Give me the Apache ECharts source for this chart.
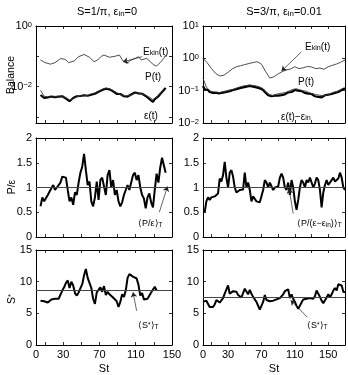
<!DOCTYPE html>
<html>
<head>
<meta charset="utf-8">
<script src="https://cdn.jsdelivr.net/npm/echarts@6/dist/echarts.min.js"></script>
<style>
  html, body { margin: 0; padding: 0; background: #fff; }
  #chart { width: 348px; height: 375px; }
</style>
</head>
<body>
<div id="chart"></div>
<script>
const FONT = '"Liberation Sans", Arial, Helvetica, sans-serif'

// ---- St (time) positions ----
const stLeft = [5,7,9,11,13,15,17,19,21,23,25,27,29,31,33,35,37,39,41,43,45,47,49,51,53,55,57,59,61,63,65,67,69,71,73,75,77,79,81,83,85,87,89,91,93,95,97,99,101,103,105,107,109,111,113,115,117,119,121,123,125,127,129,131,133,135,137,139,141,143]
const stLeftCoarse = [5,9,13,17,21,25,29,33,37,41,45,49,53,57,61,65,69,73,77,81,85,89,93,97,101,105,109,113,117,121,125,129,133,137,141]
const stEkinLeft = [5,10,16,21,27,32,36,42,47,53,59,64,68,72,75,81,87,92,96,100,105,109,113,116,122,126,130,133,137,141,143]
const stRight = [0,2,4,6,8,10,12,14,16,18,20,22,24,26,28,30,32,34,36,38,40,42,44,46,48,50,52,54,56,58,60,62,64,66,68,70,72,74,76,78,80,82,84,86,88,90,92,94,96,98,100,102,104,106,108,110,112,114,116,118,120,122,124,126,128,130,132,134,136,138,140,142,144,146,148,150,152,154,156,158,160,162,164,166,168,170]
const stRightCoarse = [0,4,8,12,16,20,24,28,32,36,40,44,48,52,56,60,64,68,72,76,80,84,88,92,96,100,104,108,112,116,120,124,128,132,136,140,144,148,152,156,160,164,168]
const stEkinRight = [0,5,10,15,20,25,30,35,40,45,50,55,60,65,70,75,80,85,90,95,100,105,110,115,120,125,130,135,140,145,150,155,160,165,170]

// ---- top row: balance (log scale) ----
const ekinLeft = [.0755,.062,.055,.062,.084,.080,.062,.070,.097,.115,.093,.0665,.0755,.10,.11,.093,.10,.11,.07,.0586,.0755,.084,.097,.0755,.086,.0665,.0516,.048,.062,.086,.11]
const powerLeft = [.0075,.0048,.0046,.0044,.0047,.0045,.0046,.0044,.0036,.0040,.0046,.0050,.0049,.0052,.0058,.0062,.0070,.0082,.0090,.0086,.0074,.0063,.0055,.0050,.0049,.0053,.0060,.0062,.0057,.0052,.0045,.0037,.0046,.0058,.0085]
const epsLeft = [
  .0053,.0047,.0042,.0048,.0044,.0041,.0047,.0043,.0045,.0042,
  .0047,.0044,.0048,.0043,.0040,.0036,.0033,.0038,.0042,.0045,
  .0048,.0044,.0049,.0047,.0052,.0054,.0050,.0055,.0054,.0060,
  .0058,.0064,.0068,.0073,.0077,.0081,.0085,.0088,.0081,.0075,
  .0070,.0064,.0058,.0054,.0057,.0052,.0048,.0050,.0047,.0052,
  .0055,.0060,.0064,.0070,.0060,.0053,.0058,.0055,.0049,.0044,
  .0039,.0036,.0031,.0039,.0044,.0048,.0057,.0066,.0077,.0091]
const ekinRight = [1.0,.73,.49,.344,.285,.30,.37,.47,.55,.59,.64,.69,.74,.79,.66,.39,.245,.27,.33,.39,.44,.47,.55,.48,.51,.56,.54,.48,.50,.46,.55,.61,.67,.76,.89]
const powerRight = [.24,.13,.10,.092,.09,.088,.093,.10,.105,.11,.12,.13,.14,.145,.15,.145,.14,.13,.115,.09,.075,.07,.078,.082,.085,.09,.10,.11,.115,.105,.10,.095,.085,.08,.075,.072,.07,.074,.08,.09,.095,.105,.12]
const epsRight = [
  .14,.11,.10,.105,.091,.095,.085,.081,.085,.077,
  .083,.079,.087,.083,.091,.087,.097,.093,.105,.10,
  .112,.108,.12,.115,.126,.118,.133,.124,.14,.15,
  .133,.142,.126,.133,.118,.124,.105,.091,.079,.072,
  .065,.068,.064,.070,.073,.070,.077,.073,.081,.077,
  .085,.089,.093,.091,.10,.105,.097,.10,.093,.097,
  .091,.085,.089,.081,.075,.079,.072,.067,.07,.064,
  .068,.062,.067,.072,.067,.075,.07,.079,.075,.085,
  .081,.091,.097,.105,.112,.118]

// ---- middle row: P / eps ----
const peLeft = [
  0.62,0.80,0.72,0.76,0.85,0.92,0.88,1.05,0.95,1.0,
  0.97,1.1,1.22,1.25,1.2,0.95,0.72,0.8,0.65,0.9,
  0.85,1.1,1.3,1.42,1.68,1.35,1.05,1.12,0.72,0.62,
  0.8,1.12,0.75,1.15,1.2,1.18,0.85,1.25,1.35,1.0,
  1.15,0.85,0.95,0.72,0.62,0.7,0.85,0.95,1.05,0.95,
  1.1,1.25,1.3,1.15,1.25,1.0,0.85,0.78,0.58,0.8,
  0.88,0.7,0.6,0.95,1.28,1.1,1.4,1.6,1.45,1.3]
const peRight = [
  null,0.5,0.72,0.8,0.75,0.8,0.78,0.82,0.85,0.88,
  1.18,1.12,1.25,1.52,1.2,1.0,1.3,1.35,1.22,1.0,
  0.9,0.92,0.95,0.93,0.96,1.3,1.0,1.1,0.95,0.72,
  0.82,0.78,0.72,0.7,0.7,0.72,0.95,1.15,1.1,1.0,
  1.1,1.12,0.95,1.0,0.98,1.02,1.2,1.28,1.2,1.0,
  0.95,1.1,0.85,1.15,1.0,0.72,0.55,0.75,1.0,1.15,
  1.1,1.0,1.15,1.1,1.2,1.1,1.0,1.08,1.2,1.15,
  0.95,0.6,0.9,1.05,1.15,1.05,1.1,1.15,1.2,1.12,
  1.15,1.18,1.3,1.2,1.0,0.95]
const peMeanLeft = 1
const peMeanRight = 1

// ---- bottom row: S* ----
const sLeft = [
  7.0,7.2,6.9,7.0,6.7,6.9,7.2,7.0,7.3,7.2,
  7.3,7.6,8.6,9.1,9.8,10.2,9.0,10.0,9.4,8.2,
  7.8,8.3,8.3,9.6,11.0,12.0,10.6,10.5,9.0,7.3,
  6.5,8.3,8.7,9.1,8.4,9.3,7.9,8.4,8.0,8.3,
  7.5,7.8,6.9,6.0,6.8,8.0,7.6,8.6,10.6,11.2,
  11.0,10.8,11.0,10.5,9.5,7.8,8.2,7.2,7.5,7.3,
  7.1,8.3,8.4,9.2,8.6,null,null,null,null,null]
const sRight = [
  6.8,6.9,7.0,7.1,6.0,6.1,6.0,6.4,7.1,6.9,
  6.7,6.8,7.4,8.1,8.4,9.4,8.1,8.1,8.5,8.8,
  8.4,7.9,7.7,7.5,7.7,8.9,8.8,8.0,8.7,8.1,
  7.6,7.2,6.8,6.2,5.6,5.9,6.8,7.9,7.1,7.4,
  6.9,7.2,7.0,7.1,7.2,7.2,7.4,7.7,8.0,8.5,
  8.7,8.8,7.4,8.0,7.3,6.8,6.2,5.7,6.0,6.7,
  7.2,7.3,7.3,7.2,7.4,7.5,7.3,7.7,8.6,8.4,
  7.6,7.0,6.6,6.7,7.5,8.0,7.5,8.0,8.6,9.0,
  8.6,9.6,9.9,9.4,8.4,8.3]
const sMeanLeft = 8.6
const sMeanRight = 7.6

// ---- ticks ----
const stTickLabels = [0, 30, 70, 110, 150]
const stTicksLeft = [10, 30, 50, 70, 90, 110, 130, 150]
const stTicksRight = [10, 30, 50, 70, 90, 110, 130, 150, 170]
const peTicks = [0, 0.5, 1, 1.5, 2]
const sTicks = [0, 5, 10, 15]

// annotation arrows (tail -> head), data coords
const arrows = [
  [[117, 0.097], [96, 0.066]],
  [[118, 1.6], [94, 0.405]],
  [[136, 0.5], [145, 1.02]],
  [[108, 0.475], [103, 0.98]],
  [[111, 5.4], [107, 8.33]],
  [[124.8, 4.4], [105, 7.06]]
]

const panels = [
  { grid: { left: 36, top: 26, width: 136, height: 97 }, xMax: 150, xTicks: stTicksLeft,
    yType: 'log', yMin: 0.00063, yMax: 1, yLabels: [0.01, 1], yTicks: [0.001, 0.01, 0.1, 1] },
  { grid: { left: 203, top: 26, width: 142, height: 97 }, xMax: 170, xTicks: stTicksRight,
    yType: 'log', yMin: 0.01, yMax: 10, yLabels: [0.01, 0.1, 1, 10], yTicks: [0.01, 0.1, 1, 10] },
  { grid: { left: 36, top: 138, width: 136, height: 99 }, xMax: 150, xTicks: stTicksLeft,
    yType: 'value', yMin: 0, yMax: 2, yLabels: peTicks, yTicks: peTicks },
  { grid: { left: 203, top: 138, width: 142, height: 99 }, xMax: 170, xTicks: stTicksRight,
    yType: 'value', yMin: 0, yMax: 2, yLabels: peTicks, yTicks: peTicks },
  { grid: { left: 36, top: 250, width: 136, height: 99 }, xMax: 150, xTicks: stTicksLeft,
    yType: 'value', yMin: 0, yMax: 15, yLabels: sTicks, yTicks: sTicks, bottom: true },
  { grid: { left: 203, top: 250, width: 142, height: 99 }, xMax: 170, xTicks: stTicksRight,
    yType: 'value', yMin: 0, yMax: 15, yLabels: sTicks, yTicks: sTicks, bottom: true }
]

const tickStyle = { show: true, inside: true, length: 3, lineStyle: { color: '#000', width: 0.8 } }
const lineFrame = { show: true, onZero: false, lineStyle: { color: '#000', width: 1 } }
const labelBase = { color: '#000', fontFamily: FONT, fontSize: 11 }

function logLabel(v) {
  const e = Math.round(Math.log10(v))
  return '{b|10}{s|' + (e < 0 ? '\u2212' + (-e) : e) + '}'
}

const xAxis = []
const yAxis = []
panels.forEach((p, i) => {
  xAxis.push({
    gridIndex: i, type: 'value', min: 0, max: p.xMax, position: 'bottom',
    axisLine: lineFrame, axisTick: { ...tickStyle, customValues: p.xTicks },
    axisLabel: { show: !!p.bottom, customValues: stTickLabels, margin: 4, ...labelBase },
    splitLine: { show: false },
    name: p.bottom ? 'St' : '', nameLocation: 'middle', nameGap: 18,
    nameTextStyle: { ...labelBase }
  })
  xAxis.push({
    gridIndex: i, type: 'value', min: 0, max: p.xMax, position: 'top',
    axisLine: lineFrame, axisTick: { ...tickStyle, customValues: p.xTicks },
    axisLabel: { show: false }, splitLine: { show: false }
  })
  const yBase = { gridIndex: i, type: p.yType, min: p.yMin, max: p.yMax, splitLine: { show: false }, axisLine: lineFrame }
  if (p.yType === 'log') yBase.logBase = 10
  yAxis.push({
    ...yBase, position: 'left',
    axisTick: { ...tickStyle, customValues: p.yTicks },
    axisLabel: p.yType === 'log'
      ? { customValues: p.yLabels, margin: 4, formatter: logLabel,
          rich: { b: { ...labelBase, verticalAlign: 'middle' },
                  s: { color: '#000', fontFamily: FONT, fontSize: 7.5, verticalAlign: 'top', lineHeight: 7 } } }
      : { customValues: p.yLabels, margin: 4, ...labelBase }
  })
  yAxis.push({
    ...yBase, position: 'right',
    axisTick: { ...tickStyle, customValues: p.yTicks },
    axisLabel: { show: false }
  })
})

const zip = (xs, ys) => xs.map((x, i) => [x, ys[i]])

function line(i, xs, ys, color, width, extra) {
  return Object.assign({
    type: 'line', xAxisIndex: 2 * i, yAxisIndex: 2 * i, data: zip(xs, ys),
    showSymbol: false, symbol: 'none', silent: true,
    lineStyle: { color: color, width: width }, z: 3
  }, extra || {})
}

// mean value as a horizontal reference line
function meanLine(mean) {
  return {
    markLine: {
      silent: true, animation: false, symbol: 'none',
      label: { show: false }, emphasis: { disabled: true },
      lineStyle: { color: '#444', width: 1, type: 'solid' },
      data: [{ yAxis: mean }]
    }
  }
}

// invisible carrier series whose markLine draws the annotation arrow
function arrowSeries(i) {
  const a = arrows[i]
  return {
    type: 'line', xAxisIndex: 2 * i, yAxisIndex: 2 * i, data: [a[0], a[1]],
    showSymbol: false, symbol: 'none', silent: true,
    lineStyle: { opacity: 0, width: 0 }, z: 4,
    markLine: {
      silent: true, animation: false, symbol: ['none', 'arrow'], symbolSize: 5,
      label: { show: false }, emphasis: { disabled: true },
      lineStyle: { color: '#222', width: 0.7, type: 'solid' },
      data: [[{ coord: a[0] }, { coord: a[1] }]]
    }
  }
}

const thin = '#3a3a3a'
const series = [
  line(0, stLeft, epsLeft, '#000', 2.2),
  line(0, stLeftCoarse, powerLeft, thin, 0.9),
  line(0, stEkinLeft, ekinLeft, thin, 0.9),
  line(1, stRight, epsRight, '#000', 2.2),
  line(1, stRightCoarse, powerRight, thin, 0.9),
  line(1, stEkinRight, ekinRight, thin, 0.9),
  line(2, stLeft, peLeft, '#000', 2, meanLine(peMeanLeft)),
  line(3, stRight, peRight, '#000', 2, meanLine(peMeanRight)),
  line(4, stLeft, sLeft, '#000', 2, meanLine(sMeanLeft)),
  line(5, stRight, sRight, '#000', 2, meanLine(sMeanRight))
]
for (let i = 0; i < 6; i++) series.push(arrowSeries(i))

function richFor(size) {
  const small = Math.round(size * 0.72 * 10) / 10
  return {
    sub: { fontSize: small, fontFamily: FONT, fill: '#000', verticalAlign: 'bottom', lineHeight: size * 0.6 },
    sup: { fontSize: small, fontFamily: FONT, fill: '#000', verticalAlign: 'top', lineHeight: size * 0.6 }
  }
}

function txt(x, y, text, opt) {
  opt = opt || {}
  const size = opt.size || 10
  return {
    type: 'text', x: x, y: y, rotation: opt.rot || 0, silent: true, z: 10,
    style: {
      text: text, fill: '#000', fontSize: size, fontFamily: FONT,
      align: opt.align || 'left', verticalAlign: 'middle', rich: richFor(size)
    }
  }
}

const graphic = [
  txt(107, 12, 'S=1/\u03c0, \u03b5{sub|in}=0', { size: 11, align: 'center' }),
  txt(284, 12, 'S=3/\u03c0, \u03b5{sub|in}=0.01', { size: 11, align: 'center' }),
  txt(11, 75, 'Balance', { size: 10.5, align: 'center', rot: Math.PI / 2 }),
  txt(12, 187, 'P/\u03b5', { size: 10.5, align: 'center', rot: Math.PI / 2 }),
  txt(12, 299, 'S{sup|*}', { size: 10.5, align: 'center', rot: Math.PI / 2 }),
  txt(143, 52, 'E{sub|kin}(t)', { size: 10 }),
  txt(145, 77, 'P(t)', { size: 10 }),
  txt(144, 116, '\u03b5(t)', { size: 10 }),
  txt(305, 47, 'E{sub|kin}(t)', { size: 10 }),
  txt(298, 82, 'P(t)', { size: 10 }),
  txt(281, 117, '\u03b5(t)\u2212\u03b5{sub|in}', { size: 10 }),
  txt(138, 224, '\u27e8P/\u03b5\u27e9{sub|T}', { size: 9 }),
  txt(297, 224, '\u27e8P/(\u03b5\u2212\u03b5{sub|in})\u27e9{sub|T}', { size: 9 }),
  txt(138, 326, '\u27e8S{sup|*}\u27e9{sub|T}', { size: 9 }),
  txt(307, 326, '\u27e8S{sup|*}\u27e9{sub|T}', { size: 9 })
]

const chart = echarts.init(document.getElementById('chart'))
chart.setOption({
  animation: false,
  backgroundColor: '#ffffff',
  grid: panels.map(p => p.grid),
  xAxis: xAxis,
  yAxis: yAxis,
  series: series,
  graphic: graphic
})
</script>
</body>
</html>
